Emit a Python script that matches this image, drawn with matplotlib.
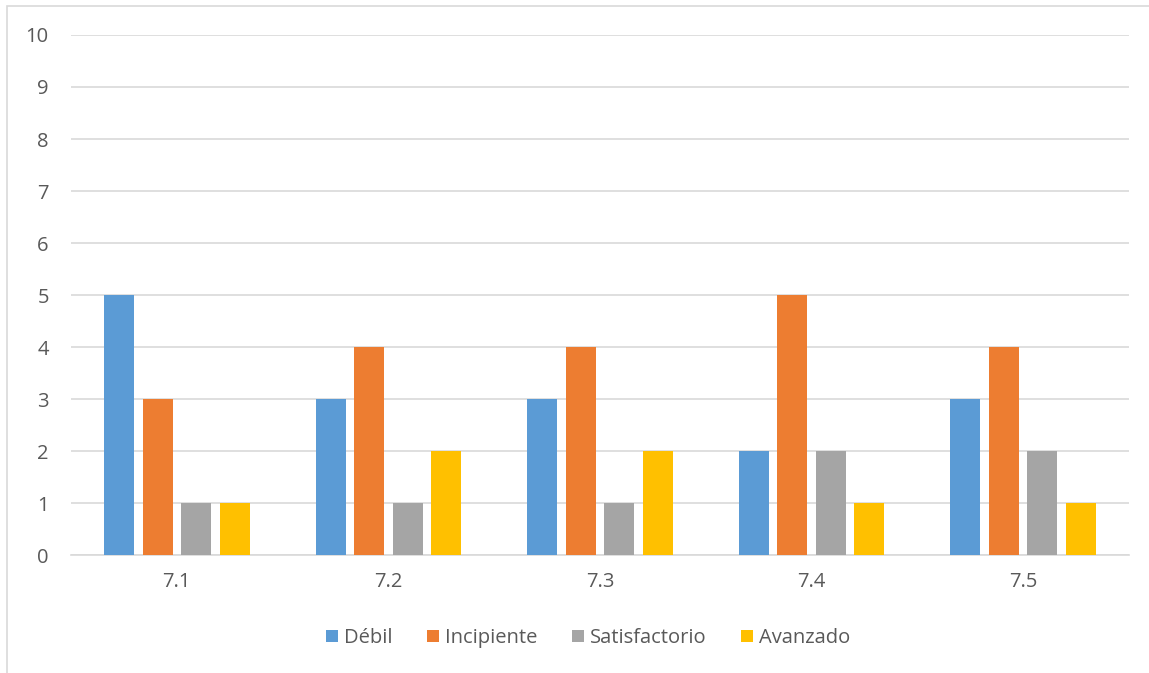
import matplotlib
matplotlib.use("Agg")
import matplotlib.pyplot as plt
from matplotlib.patches import Rectangle
import numpy as np

categories = ["7.1", "7.2", "7.3", "7.4", "7.5"]
series_names = ["Débil", "Incipiente", "Satisfactorio", "Avanzado"]
debil = [5, 3, 3, 2, 3]
incipiente = [3, 4, 4, 5, 4]
satisfactorio = [1, 1, 1, 2, 2]
avanzado = [1, 2, 2, 1, 1]
colors = ["#5b9bd5", "#ed7d31", "#a5a5a5", "#ffc000"]

plt.rcParams["font.family"] = ["Open Sans", "DejaVu Sans"]
text_color = "#595959"

fig = plt.figure(figsize=(11.49, 6.73), dpi=100)
ax = fig.add_axes([0.0618, 0.1753, 0.9208, 0.7727])

# outer chart frame
fig.patches.append(Rectangle((7 / 1149, -0.1), 1.2, 667 / 673 + 0.1,
                             transform=fig.transFigure, fill=False,
                             edgecolor="#d9d9d9", linewidth=1.2))

x = np.arange(len(categories))
width = 0.142
pitch = 0.182
all_series = [debil, incipiente, satisfactorio, avanzado]
for i, (vals, name) in enumerate(zip(all_series, series_names)):
    offset = (i - 1.5) * pitch
    ax.bar(x + offset, vals, width, color=colors[i], label=name, zorder=3)

ax.set_xlim(-0.5, len(categories) - 0.5)
ax.set_ylim(0, 10)
ax.set_yticks(range(0, 11))
ax.set_xticks(x)
ax.set_xticklabels(categories)
ax.yaxis.grid(True, color="#d9d9d9", linewidth=1.2, zorder=0)
ax.tick_params(axis="both", length=0, labelsize=14.5, labelcolor=text_color)
ax.tick_params(axis="y", pad=16)
ax.tick_params(axis="x", pad=12)
for side in ["top", "right", "left"]:
    ax.spines[side].set_visible(False)
ax.spines["bottom"].set_color("#d9d9d9")
ax.spines["bottom"].set_linewidth(1.2)

leg = fig.legend(loc="center", bbox_to_anchor=(588 / 1149, 1 - 638 / 673),
                 ncol=4, frameon=False, fontsize=14.5, handlelength=0.6,
                 handleheight=0.6, handletextpad=0.3, columnspacing=1.7)
for t in leg.get_texts():
    t.set_color(text_color)

fig.savefig("out.png", dpi=100)
